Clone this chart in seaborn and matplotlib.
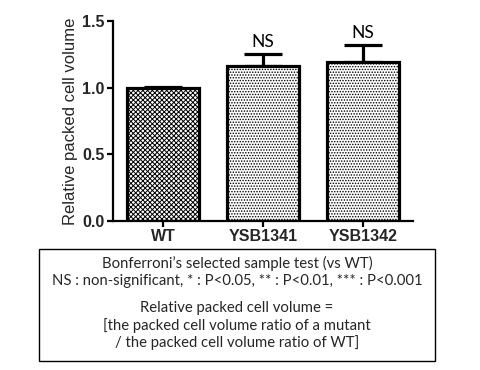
import matplotlib
matplotlib.use("Agg")
import matplotlib.pyplot as plt
import seaborn as sns
import pandas as pd
from matplotlib.patches import Rectangle

strains = ["WT", "YSB1341", "YSB1342"]
values = [1.0, 1.165, 1.19]
errors = [0.008, 0.088, 0.13]
sig_labels = ["", "NS", "NS"]
hatches = ["xxxxxxx", "......", "......"]
yticks = [0.0, 0.5, 1.0, 1.5]
ytick_labels = ["0.0", "0.5", "1.0", "1.5"]
note_lines = [
    "Bonferroni\u2019s selected sample test (vs WT)",
    "NS : non-significant, * : P<0.05, ** : P<0.01, *** : P<0.001",
]
note_lines2 = [
    "Relative packed cell volume =",
    "[the packed cell volume ratio of a mutant",
    "/ the packed cell volume ratio of WT]",
]

sns.set_style("white")
plt.rcParams["font.family"] = ["Liberation Sans", "DejaVu Sans"]
plt.rcParams["hatch.linewidth"] = 0.7

df = pd.DataFrame({"strain": strains, "value": values})

fig = plt.figure(figsize=(4.8, 3.7), dpi=100)
ax = fig.add_axes([113 / 480, 1 - 221 / 370, 300 / 480, 200 / 370])

sns.barplot(data=df, x="strain", y="value", color="white", width=0.72,
            edgecolor="black", linewidth=2.3, errorbar=None, ax=ax, zorder=2)
for p, h in zip(ax.patches, hatches):
    p.set_hatch(h)
    p.set_facecolor("white")

ax.errorbar(range(len(strains)), values, yerr=[[0] * len(errors), errors],
            fmt="none", ecolor="black", elinewidth=2.3, capsize=14,
            capthick=2.3, zorder=1)

for i, (v, e, s) in enumerate(zip(values, errors, sig_labels)):
    if s:
        ax.text(i, v + e + 0.03, s, ha="center", va="bottom",
                fontsize=12.5, family=["Lato", "DejaVu Sans"], color="black")

ax.set_xlim(-0.5, 2.5)
ax.set_ylim(0, 1.5)
ax.set_yticks(yticks)
ax.set_yticklabels(ytick_labels, fontsize=11.5, fontweight="bold",
                   family=["Liberation Sans", "DejaVu Sans"])
ax.set_xticks(range(len(strains)))
ax.set_xticklabels(strains, fontsize=11.5, fontweight="bold",
                   family=["Liberation Sans", "DejaVu Sans"])
ax.set_xlabel("")
ax.set_ylabel("Relative packed cell volume", fontsize=12, labelpad=3,
              family=["Liberation Sans", "DejaVu Sans"])

for side in ["top", "right"]:
    ax.spines[side].set_visible(False)
for side in ["left", "bottom"]:
    ax.spines[side].set_linewidth(1.6)
    ax.spines[side].set_color("black")
ax.tick_params(axis="both", direction="out", length=4, width=1.6,
               color="black", left=True, bottom=True, pad=2)

# note box
fig.patches.append(Rectangle((39 / 480, 1 - 361 / 370), 396 / 480, 112 / 370,
                             transform=fig.transFigure, fill=False,
                             edgecolor="black", linewidth=1.0))
ys1 = [263, 281]
ys2 = [308, 326, 343]
for t, y in zip(note_lines, ys1):
    fig.text(237 / 480, 1 - y / 370, t, ha="center", va="center",
             fontsize=10.7, family=["Lato", "DejaVu Sans"])
for t, y in zip(note_lines2, ys2):
    fig.text(237 / 480, 1 - y / 370, t, ha="center", va="center",
             fontsize=10.7, family=["Lato", "DejaVu Sans"])

fig.savefig("out.png", dpi=100)
